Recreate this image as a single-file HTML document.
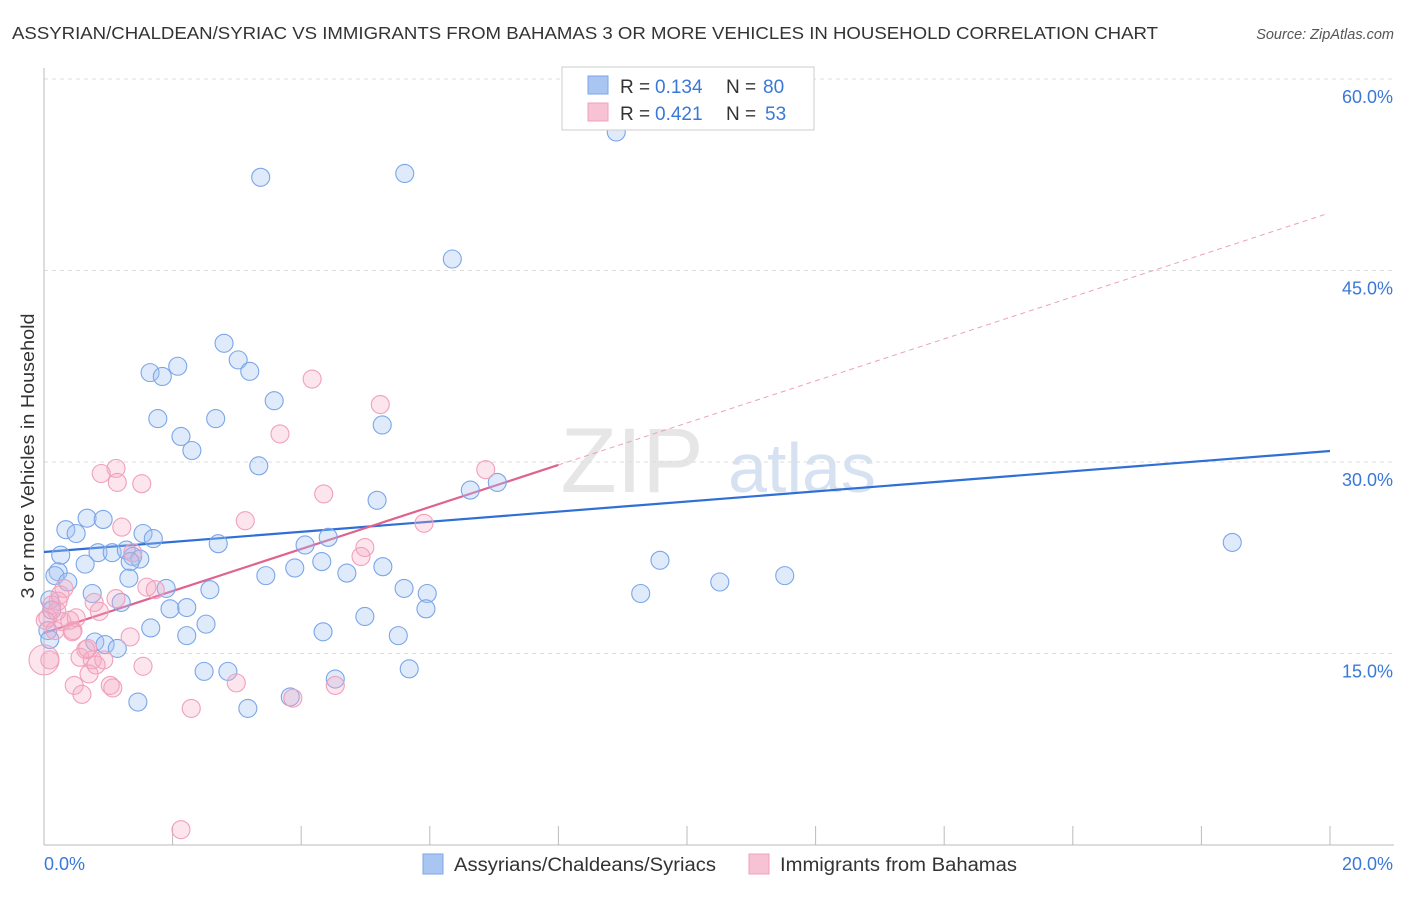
<!DOCTYPE html>
<html><head><meta charset="utf-8">
<style>
body{margin:0;background:#fff;}
svg text{font-family:"Liberation Sans",sans-serif;}
</style></head>
<body>
<svg id="chart" width="1406" height="892" viewBox="0 0 1406 892" xmlns="http://www.w3.org/2000/svg">
<text x="12" y="39" font-size="17.5" fill="#333" textLength="1146" lengthAdjust="spacingAndGlyphs">ASSYRIAN/CHALDEAN/SYRIAC VS IMMIGRANTS FROM BAHAMAS 3 OR MORE VEHICLES IN HOUSEHOLD CORRELATION CHART</text>
<text x="1394" y="39" font-size="14.5" fill="#555" font-style="italic" text-anchor="end">Source: ZipAtlas.com</text>
<g>
<text x="632" y="492" font-size="92" fill="#e6e6e6" text-anchor="middle" font-family="Liberation Serif">ZIP</text>
<text x="802" y="492" font-size="70" fill="#d6e2f2" text-anchor="middle">atlas</text>
</g>
<g id="grid"></g>
<g id="axes"></g>
<g id="lines"></g>
<g id="pts"></g>
<text transform="translate(34,456) rotate(-90)" font-size="18" fill="#333" text-anchor="middle" textLength="285" lengthAdjust="spacingAndGlyphs">3 or more Vehicles in Household</text>
<g>
<rect x="562" y="67" width="252" height="63" fill="#fff" stroke="#ccc"/>
<rect x="588" y="76" width="20" height="18" fill="#a9c6f2" stroke="#7aa6e8"/>
<text x="620" y="93" font-size="19" fill="#333">R =</text>
<text x="655" y="93" font-size="19" fill="#3a78d8">0.134</text>
<text x="726" y="93" font-size="19" fill="#333">N =</text>
<text x="763" y="93" font-size="19" fill="#3a78d8">80</text>
<rect x="588" y="103" width="20" height="18" fill="#f7c3d4" stroke="#f0a0bb"/>
<text x="620" y="120" font-size="19" fill="#333">R =</text>
<text x="655" y="120" font-size="19" fill="#3a78d8">0.421</text>
<text x="726" y="120" font-size="19" fill="#333">N =</text>
<text x="765" y="120" font-size="19" fill="#3a78d8">53</text>
</g>
<g>
<rect x="423" y="854" width="20" height="20" fill="#a9c6f2" stroke="#7aa6e8"/>
<text x="454" y="871" font-size="19" fill="#333" textLength="262" lengthAdjust="spacingAndGlyphs">Assyrians/Chaldeans/Syriacs</text>
<rect x="749" y="854" width="20" height="20" fill="#f7c3d4" stroke="#f0a0bb"/>
<text x="780" y="871" font-size="19" fill="#333" textLength="237" lengthAdjust="spacingAndGlyphs">Immigrants from Bahamas</text>
</g>
</svg>
<script>
const blueX=[8.90,3.37,5.61,6.35,2.80,2.08,1.65,1.84,3.02,3.20,3.58,1.77,2.67,2.13,2.30,3.34,5.26,5.18,6.63,7.05,0.67,0.92,0.34,0.50,1.54,1.70,2.71,4.06,4.42,0.26,0.84,1.06,1.28,1.38,1.49,1.34,4.32,5.27,4.71,3.45,3.90,0.64,0.22,0.17,0.37,1.32,1.90,2.58,5.60,5.96,0.75,1.20,1.96,2.22,4.99,5.94,0.09,0.12,1.66,2.52,2.22,4.34,5.51,0.79,0.95,1.14,0.06,2.49,2.86,4.53,5.68,3.83,1.46,3.17,9.28,9.58,10.51,11.52,18.48,0.09];
const blueY=[55.85,52.3,52.6,45.9,39.3,37.5,37.0,36.7,38.0,37.1,34.8,33.4,33.4,32.0,30.9,29.7,32.9,27.0,27.8,28.4,25.6,25.5,24.7,24.4,24.4,24.0,23.6,23.5,24.1,22.7,22.9,22.9,23.1,22.6,22.4,22.2,22.2,21.8,21.3,21.1,21.7,22.0,21.4,21.1,20.6,20.9,20.1,20.0,20.1,19.7,19.7,19.0,18.5,18.6,17.9,18.5,19.2,18.4,17.0,17.3,16.4,16.7,16.4,15.9,15.7,15.4,16.8,13.6,13.6,13.0,13.8,11.6,11.2,10.7,19.7,22.3,20.6,21.1,23.7,16.1];
const pinkX=[4.17,5.23,3.67,1.12,0.89,1.14,1.52,3.13,4.35,6.87,5.91,1.21,4.99,4.93,1.38,1.60,1.73,0.31,0.22,0.12,0.78,0.86,1.12,0.06,0.28,0.45,0.40,0.50,1.34,0.65,0.75,0.56,0.93,1.54,0.70,0.47,0.59,1.03,1.07,2.99,2.29,3.87,4.53,0.09,2.13,0.20,0.02,0.17,0.81,0.25,0.68,0.44];
const pinkY=[36.5,34.5,32.2,29.5,29.1,28.4,28.3,25.4,27.5,29.4,25.2,24.9,23.3,22.6,22.9,20.2,20.0,20.1,19.1,18.8,19.0,18.3,19.3,17.8,17.5,16.8,17.6,17.8,16.3,15.3,14.5,14.7,14.5,14.0,13.4,12.5,11.8,12.5,12.3,12.7,10.7,11.5,12.5,14.5,1.2,18.3,17.6,16.8,14.1,19.6,15.4,16.7];
const bigPinkX=[0.0], bigPinkY=[14.5];
const yTicks=[15,30,45,60];
const yTickLabels=["15.0%","30.0%","45.0%","60.0%"];
const xTicks=[0,2,4,6,8,10,12,14,16,18,20];
const blueFit=[22.95,0.3955];
const pinkFit=[16.6,1.646];
const pinkSolidEnd=8.0, pinkDashEnd=19.92;

const NS="http://www.w3.org/2000/svg";
const X=v=>44+v/20*1286;
const Y=v=>845-v*766/60;
function mk(tag,attrs,parent){const e=document.createElementNS(NS,tag);for(const k in attrs)e.setAttribute(k,attrs[k]);document.getElementById(parent).appendChild(e);return e;}

yTicks.forEach((t,i)=>{
 const g=mk('line',{x1:44,x2:1394,y1:Y(t),y2:Y(t),stroke:'#ddd','stroke-dasharray':'4,4'},'grid');
 
 
 const tx=mk('text',{x:1393,y:Y(t)+24,'font-size':18,fill:'#3a78d8','text-anchor':'end'},'grid');
 tx.textContent=yTickLabels[i];
 
 
});
const ax=mk('line',{x1:44,x2:1394,y1:845,y2:845,stroke:'#bbb'},'axes');


const ay=mk('line',{x1:44,x2:44,y1:68,y2:845,stroke:'#bbb'},'axes');


xTicks.forEach(t=>{
 const l=mk('line',{x1:X(t),x2:X(t),y1:826,y2:845,stroke:'#bbb'},'axes');
 
 
});
const xl0=mk('text',{x:44,y:870,'font-size':18,fill:'#3a78d8'},'axes');xl0.textContent='0.0%';


const xl1=mk('text',{x:1393,y:870,'font-size':18,fill:'#3a78d8','text-anchor':'end'},'axes');xl1.textContent='20.0%';



blueX.forEach((v,i)=>{
 const c=mk('circle',{cx:X(v),cy:Y(blueY[i]),r:9,fill:'rgba(164,194,244,0.35)',stroke:'#7aa6e8','stroke-width':1.1},'pts');
 
 
});
pinkX.forEach((v,i)=>{
 const c=mk('circle',{cx:X(v),cy:Y(pinkY[i]),r:9,fill:'rgba(244,170,196,0.3)',stroke:'#f0a0bb','stroke-width':1.1},'pts');
 
 
});
bigPinkX.forEach((v,i)=>{
 const c=mk('circle',{cx:X(v),cy:Y(bigPinkY[i]),r:15,fill:'rgba(244,170,196,0.3)',stroke:'#f0a0bb','stroke-width':1.1},'pts');
 
 
});
const bl=mk('line',{x1:X(0),y1:Y(blueFit[0]),x2:X(20),y2:Y(blueFit[0]+blueFit[1]*20),stroke:'#2f6fd6','stroke-width':2.2},'lines');


const pl=mk('line',{x1:X(0),y1:Y(pinkFit[0]),x2:X(pinkSolidEnd),y2:Y(pinkFit[0]+pinkFit[1]*pinkSolidEnd),stroke:'#e0628f','stroke-width':2.2},'lines');


const pd=mk('line',{x1:X(pinkSolidEnd),y1:Y(pinkFit[0]+pinkFit[1]*pinkSolidEnd),x2:X(pinkDashEnd),y2:Y(pinkFit[0]+pinkFit[1]*pinkDashEnd),stroke:'#eea0b9','stroke-width':1,'stroke-dasharray':'5,4'},'lines');


</script>
</body></html>
